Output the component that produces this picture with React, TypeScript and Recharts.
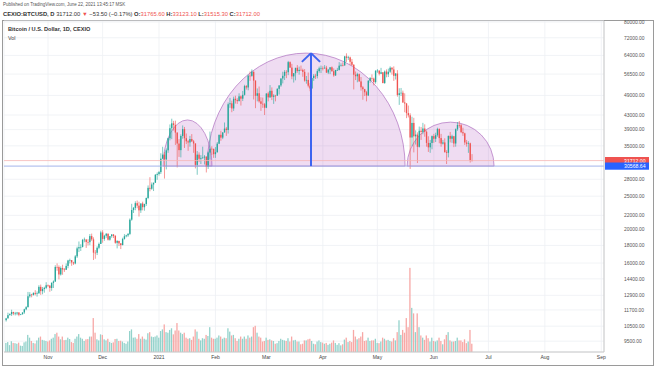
import React from 'react';
import { ComposedChart, Bar, XAxis, YAxis, CartesianGrid, ReferenceLine, ReferenceArea } from 'recharts';

// Daily BTC/USD (CEXIO), 9 Oct 2020 .. 22 Jun 2021, prices in thousands USD
const openK: number[] = [
  10.93,11.06,11.30,11.38,11.54,11.43,11.43,11.50,11.33,11.37,11.51,11.75,11.92,12.82,12.97,12.93,13.11,13.03,13.07,13.65,13.27,13.46,13.56,
  13.80,13.76,13.55,14.02,14.15,15.59,15.58,14.83,15.48,15.33,15.30,15.70,16.28,16.32,16.07,15.96,16.73,17.65,17.80,17.82,18.68,18.72,18.42,18.40,19.16,18.74,17.15,17.14,17.72,18.18,
  19.63,18.80,19.20,19.45,18.70,19.15,19.36,19.17,18.32,18.55,18.25,18.04,18.80,19.14,19.25,19.44,21.38,22.80,23.13,23.87,23.48,22.75,23.82,23.24,23.73,24.71,26.44,26.28,27.04,27.36,28.84,
  29.00,29.37,32.13,33.00,31.97,33.97,36.82,39.37,40.67,40.24,38.24,35.54,34.01,37.39,39.14,36.83,36.07,35.80,36.63,36.07,35.55,30.82,33.00,32.10,32.29,32.37,32.57,30.43,33.47,34.32,34.30,
  33.11,33.54,35.51,37.67,36.97,38.29,39.26,38.90,46.20,46.48,44.92,47.91,47.50,47.17,48.70,47.95,49.20,52.15,51.68,55.90,55.84,57.41,54.09,48.88,49.71,47.10,46.34,46.19,
  45.14,49.63,48.38,50.54,48.56,48.93,48.91,51.21,52.39,54.88,55.86,57.33,57.23,61.19,59.00,55.64,56.83,58.92,57.67,58.12,58.09,57.35,54.10,54.34,52.30,51.32,55.03,55.86,55.78,57.63,58.73,
  58.74,58.72,58.98,57.09,58.20,59.12,57.60,56.00,58.09,58.10,59.77,59.99,59.86,63.59,62.96,63.16,61.33,60.11,56.27,55.70,56.47,53.81,51.73,51.09,50.05,49.00,54.02,55.03,54.82,53.56,
  57.75,57.83,56.63,57.20,53.24,57.47,56.43,57.38,58.93,58.28,55.86,56.70,49.15,49.72,49.88,46.76,46.43,43.54,42.91,37.00,40.78,37.29,37.72,34.77,38.71,38.40,39.29,38.44,35.69,34.65,35.68,
  37.34,36.69,37.58,39.19,36.86,35.52,35.80,33.59,33.41,37.39,36.69,37.31,35.55,39.10,40.22,40.16,38.35,38.05,35.79,35.48,35.60,31.77,
];
const highK: number[] = [
  11.10,11.49,11.44,11.72,11.56,11.55,11.55,11.54,11.40,11.50,11.80,12.00,13.20,13.18,13.03,13.16,13.35,13.24,13.80,13.86,13.64,13.66,14.08,
  13.87,13.82,14.07,14.25,15.77,15.97,15.75,15.65,15.83,15.48,15.96,16.35,16.48,16.33,16.14,16.88,17.85,18.48,18.14,18.80,18.97,18.77,18.77,19.42,19.48,19.00,17.45,17.90,18.35,19.86,
  19.92,19.32,19.56,19.52,19.17,19.42,19.42,19.30,18.63,18.56,18.28,18.95,19.41,19.33,19.56,21.56,23.77,23.27,24.17,24.29,24.10,23.83,24.11,23.79,24.78,26.87,28.39,27.41,27.37,28.99,29.30,
  29.60,33.30,34.78,33.60,34.40,36.95,40.37,41.95,41.35,41.40,38.30,36.60,37.80,40.10,39.70,38.00,36.40,37.40,37.85,36.40,35.60,33.80,33.50,32.90,34.80,32.90,32.60,33.70,38.50,34.90,34.35,
  34.70,35.90,37.70,38.70,38.30,40.90,39.70,46.75,48.20,47.30,48.60,48.90,48.10,49.70,49.00,50.50,52.60,52.50,56.30,57.50,58.30,57.50,54.20,51.35,52.00,48.40,48.30,46.60,
  49.70,50.20,52.50,51.70,49.40,49.20,51.40,52.40,54.90,57.40,58.00,58.00,61.70,61.50,60.50,56.90,58.90,60.00,59.40,59.80,58.60,58.40,55.80,57.10,53.20,55.10,56.50,56.60,58.40,59.40,59.80,
  59.50,60.00,59.70,58.50,59.20,59.45,58.70,58.10,58.90,61.20,60.70,61.10,63.80,64.90,63.80,63.50,62.50,60.40,57.50,57.00,56.70,55.40,52.20,51.20,50.50,54.30,55.40,56.40,55.20,58.00,
  58.40,57.90,58.90,57.20,57.90,58.30,58.60,59.50,59.20,59.50,56.90,58.00,51.40,51.50,50.60,49.70,46.60,45.80,43.50,42.50,42.20,38.80,38.30,39.80,39.70,40.80,40.40,38.80,37.30,36.40,37.50,
  37.90,38.20,39.50,39.30,37.90,36.40,36.80,34.00,37.50,38.40,37.70,37.40,39.30,41.00,41.30,40.50,39.50,38.20,36.40,36.10,35.75,33.12,
];
const lowK: number[] = [
  10.83,11.06,11.28,11.24,11.30,11.28,11.30,11.22,11.30,11.35,11.40,11.68,11.90,12.70,12.73,12.88,12.90,12.79,13.05,12.94,12.99,13.13,13.44,
  13.63,13.21,13.30,13.55,14.10,15.20,14.35,14.72,14.80,15.08,15.28,15.46,15.96,15.71,15.80,15.87,16.55,17.22,17.35,17.76,18.38,17.70,18.00,18.03,18.55,16.33,16.47,16.88,17.55,18.18,
  18.33,18.57,18.93,18.60,18.58,18.94,18.91,18.20,17.65,17.93,17.57,18.02,18.71,19.00,19.06,19.29,21.23,22.35,22.77,23.07,21.83,22.37,22.75,22.70,23.43,24.51,25.83,26.10,25.88,27.32,27.90,
  28.70,29.00,32.00,28.13,29.90,33.40,36.30,36.60,38.75,35.20,30.30,32.50,32.40,36.70,34.50,35.40,33.85,34.80,35.90,33.40,30.10,28.85,31.40,31.00,32.10,30.90,29.30,30.00,31.95,32.90,32.30,
  32.30,33.44,35.40,36.20,36.60,38.20,37.40,37.99,45.10,43.80,44.20,46.40,46.30,47.10,45.80,47.20,48.95,50.95,50.70,54.00,55.50,47.70,45.00,47.10,46.70,44.20,45.10,43.00,
  45.00,47.10,48.20,47.50,46.30,47.10,48.85,49.30,51.90,53.10,54.30,55.00,56.10,58.90,54.60,53.40,54.20,57.00,56.30,57.90,55.50,53.70,53.00,51.70,50.40,51.30,54.00,54.70,54.90,57.00,56.90,
  57.90,58.50,56.90,56.50,56.50,57.40,55.50,55.80,57.70,57.90,59.40,59.50,59.80,61.30,62.10,60.00,59.60,51.00,54.30,53.50,53.70,50.60,47.60,48.80,47.10,48.80,53.30,53.90,52.40,53.00,
  57.00,56.00,56.50,53.10,52.90,55.30,55.40,56.90,56.30,54.00,54.50,48.60,46.00,48.80,46.60,43.80,42.10,42.30,30.00,34.90,33.50,35.30,31.20,34.60,36.40,37.80,37.20,34.80,33.60,33.40,34.20,
  35.70,35.90,37.20,35.60,34.80,35.30,33.40,31.00,32.40,35.80,35.70,34.70,34.80,38.70,39.50,38.10,37.40,35.20,34.80,33.40,31.30,31.52,
];
const closeK: number[] = [
  11.06,11.30,11.38,11.54,11.43,11.43,11.50,11.33,11.37,11.51,11.75,11.92,12.82,12.97,12.93,13.11,13.03,13.07,13.65,13.27,13.46,13.56,13.80,
  13.76,13.55,14.02,14.15,15.59,15.58,14.83,15.48,15.33,15.30,15.70,16.28,16.32,16.07,15.96,16.73,17.65,17.80,17.82,18.68,18.72,18.42,18.40,19.16,18.74,17.15,17.14,17.72,18.18,19.63,
  18.80,19.20,19.45,18.70,19.15,19.36,19.17,18.32,18.55,18.25,18.04,18.80,19.14,19.25,19.44,21.38,22.80,23.13,23.87,23.48,22.75,23.82,23.24,23.73,24.71,26.44,26.28,27.04,27.36,28.84,29.00,
  29.37,32.13,33.00,31.97,33.97,36.82,39.37,40.67,40.24,38.24,35.54,34.01,37.39,39.14,36.83,36.07,35.80,36.63,36.07,35.55,30.82,33.00,32.10,32.29,32.37,32.57,30.43,33.47,34.32,34.30,33.11,
  33.54,35.51,37.67,36.97,38.29,39.26,38.90,46.20,46.48,44.92,47.91,47.50,47.17,48.70,47.95,49.20,52.15,51.68,55.90,55.84,57.41,54.09,48.88,49.71,47.10,46.34,46.19,45.14,
  49.63,48.38,50.54,48.56,48.93,48.91,51.21,52.39,54.88,55.86,57.33,57.23,61.19,59.00,55.64,56.83,58.92,57.67,58.12,58.09,57.35,54.10,54.34,52.30,51.32,55.03,55.86,55.78,57.63,58.73,58.74,
  58.72,58.98,57.09,58.20,59.12,57.60,56.00,58.09,58.10,59.77,59.99,59.86,63.59,62.96,63.16,61.33,60.11,56.27,55.70,56.47,53.81,51.73,51.09,50.05,49.00,54.02,55.03,54.82,53.56,57.75,
  57.83,56.63,57.20,53.24,57.47,56.43,57.38,58.93,58.28,55.86,56.70,49.15,49.72,49.88,46.76,46.43,43.54,42.91,37.00,40.78,37.29,37.72,34.77,38.71,38.40,39.29,38.44,35.69,34.65,35.68,37.34,
  36.69,37.58,39.19,36.86,35.52,35.80,33.59,33.41,37.39,36.69,37.31,35.55,39.10,40.22,40.16,38.35,38.05,35.79,35.48,35.60,31.77,31.712,
];
// daily volume, BTC
const volume: number[] = [
  330,360,250,390,330,320,300,340,230,220,350,380,620,520,400,330,310,420,520,560,440,420,400,
  380,420,480,520,650,700,560,460,560,430,440,520,470,360,330,480,560,650,520,480,400,460,470,560,560,1230,700,460,420,640,
  620,460,420,480,360,330,350,470,480,400,410,380,330,300,380,760,820,520,530,480,650,480,560,480,450,680,720,560,540,560,600,
  520,760,820,1000,720,700,800,860,640,780,1050,780,700,650,700,520,480,500,440,560,820,740,480,420,500,480,620,580,900,520,480,
  480,520,600,560,480,520,500,860,740,600,620,500,400,480,560,480,560,480,600,520,560,900,950,700,560,520,380,400,
  520,440,460,420,400,300,320,400,480,440,420,400,500,380,560,420,440,380,380,280,300,420,420,460,480,400,300,280,380,420,360,
  340,300,330,260,300,340,420,330,260,320,240,280,450,520,360,400,360,800,560,460,500,560,720,400,420,520,400,420,420,480,
  330,320,380,520,480,420,440,400,380,500,420,720,1150,620,800,700,1230,900,3050,1600,1400,720,1400,900,600,520,440,600,500,380,520,
  400,380,420,520,400,280,460,620,720,420,380,380,400,520,420,420,360,460,320,380,800,300,
];

// x axis: day index from 9 Oct 2020
const monthTicks = [23, 53, 84, 115, 143, 174, 204, 235, 265, 296, 327];
const monthLabels = ['Nov', 'Dec', '2021', 'Feb', 'Mar', 'Apr', 'May', 'Jun', 'Jul', 'Aug', 'Sep'];
const priceTicks = [9500, 10500, 11700, 12900, 14400, 16000, 18000, 20000, 22000, 25000, 28000, 35000, 39000, 43000, 49000, 56500, 64000, 72000, 80000];

const lastPrice = 31712.0;
const levelPrice = 30568.64;
// arcs: [startDay, endDay, peakPrice]
const arcs: [number, number, number][] = [
  [86.2, 113.1, 41600],
  [110.4, 219.2, 65000],
  [220.3, 268.1, 41000],
];
const arrowDay = 167.5;
const arrowTop = 65000;
const arrowArmPrice = 61300;
const arrowArmHalf = 5;

const UP = '#26a69a';
const DOWN = '#ef5350';
const FONT = '"Liberation Sans", Arial, sans-serif';

const data = closeK.map((c, i) => ({
  day: i,
  o: openK[i] * 1000,
  h: highK[i] * 1000,
  l: lowK[i] * 1000,
  c: c * 1000,
  range: [lowK[i] * 1000, highK[i] * 1000],
  vol: volume[i],
}));

const Candle = (p: any) => {
  const { x, y, width, height, payload } = p;
  if (x == null || y == null || !payload) return <g />;
  const top = Math.min(y, y + height);
  const bot = Math.max(y, y + height);
  const { o, h, l, c } = payload;
  const lh = Math.log(h);
  const ll = Math.log(l);
  const span = lh - ll || 1;
  const py = (v: number) => top + ((bot - top) * (lh - Math.log(v))) / span;
  const up = c >= o;
  const col = up ? UP : DOWN;
  const cx = x + width / 2;
  const bw = 1.35;
  const y1 = py(Math.max(o, c));
  const y2 = py(Math.min(o, c));
  return (
    <g>
      <line x1={cx} x2={cx} y1={top} y2={bot} stroke={col} strokeWidth={0.6} />
      <rect x={cx - bw / 2} y={y1} width={bw} height={Math.max(0.6, y2 - y1)} fill={col} />
    </g>
  );
};

const VolBar = (p: any) => {
  const { x, y, width, height, payload } = p;
  if (x == null || !payload) return <g />;
  const up = payload.c >= payload.o;
  return <rect x={x + width / 2 - 0.65} y={y} width={1.3} height={Math.max(0, height)} fill={up ? '#93d2cb' : '#f7a8a6'} />;
};

const ArcShape = (p: any) => {
  const { x, y, width, height } = p;
  if (!width || !height) return <g />;
  const d = `M${x},${y + height} A${width / 2},${height} 0 0 1 ${x + width},${y + height} Z`;
  return <path d={d} fill="rgba(171,71,188,0.19)" stroke="#ad6fbf" strokeWidth={0.7} />;
};

const tag = (text: string, color: string) => (props: any) => {
  const vb = props.viewBox || {};
  const rx = (vb.x || 0) + (vb.width || 0);
  const cy = vb.y || 0;
  return (
    <g>
      <rect x={rx + 1} y={cy - 3.6} width={44} height={7.2} fill={color} />
      <text x={rx + 20} y={cy + 1.9} fill="#fff" fontSize={5.2} fontFamily={FONT} textAnchor="start">{text}</text>
    </g>
  );
};

export default function App() {
  return (
    <div style={{ position: 'absolute', left: 0, top: 0, width: 654, height: 366, background: '#fff', overflow: 'hidden', fontFamily: FONT }}>
      <div style={{ position: 'absolute', left: 3, top: 2, fontSize: 4.5, color: '#555', whiteSpace: 'nowrap' }}>
        Published on TradingView.com, June 22, 2021 13:45:17 MSK
      </div>
      <div style={{ position: 'absolute', left: 3, top: 11, fontSize: 5.8, color: '#333', whiteSpace: 'nowrap' }}>
        <b>CEXIO:BTCUSD, D</b> 31712.00 <span style={{ color: DOWN }}>▼</span> −53.50 (−0.17%) <b>O:</b><span style={{ color: DOWN }}>31765.60</span> <b>H:</b><span style={{ color: DOWN }}>33123.10</span> <b>L:</b><span style={{ color: DOWN }}>31515.30</span> <b>C:</b><span style={{ color: DOWN }}>31712.00</span>
      </div>
      <div style={{ position: 'absolute', left: 2, top: 20, width: 650, height: 344, border: '1px solid #9a9a9a' }} />
      <div style={{ position: 'absolute', left: 0, top: 0 }}>
        <ComposedChart width={654} height={366} data={data} margin={{ top: 21, right: 0, bottom: 0, left: 4 }}>
          <CartesianGrid xAxisId="p" yAxisId="price" stroke="#eef0f4" strokeWidth={0.8} />
          <XAxis xAxisId="p" dataKey="day" type="number" domain={[-1.18, 328.5]} allowDataOverflow ticks={monthTicks}
            tickFormatter={(v: number) => monthLabels[monthTicks.indexOf(v)] ?? ''} interval={0}
            height={14} tickLine={false} tickSize={0} tickMargin={3} axisLine={{ stroke: '#c8c8c8' }}
            tick={{ fontSize: 5, fill: '#444', fontFamily: FONT }} />
          <XAxis xAxisId="v" dataKey="day" type="number" domain={[-1.18, 328.5]} allowDataOverflow hide />
          <YAxis yAxisId="price" orientation="right" scale="log" domain={[8837, 80535]} allowDataOverflow ticks={priceTicks}
            interval={0} width={50} tickLine={false} tickSize={0} tickMargin={20} axisLine={{ stroke: '#c8c8c8' }}
            tickFormatter={(v: number) => v.toFixed(2)} tick={{ fontSize: 4.9, fill: '#555', fontFamily: FONT }} />
          <YAxis yAxisId="vol" domain={[0, 12000]} hide />

          {arcs.map(([a, b, peak], i) => (
            <ReferenceArea key={i} xAxisId="p" yAxisId="price" x1={a} x2={b} y1={levelPrice} y2={peak} shape={ArcShape} />
          ))}

          <Bar xAxisId="v" yAxisId="vol" dataKey="vol" barSize={1.3} shape={VolBar} isAnimationActive={false} />
          <Bar xAxisId="p" yAxisId="price" dataKey="range" barSize={1.8} shape={Candle} isAnimationActive={false} />

          <ReferenceLine xAxisId="p" yAxisId="price" y={lastPrice} stroke="#f5b5b4" strokeWidth={0.8} label={tag('31712.00', '#ef5350')} />
          <ReferenceLine xAxisId="p" yAxisId="price" y={levelPrice} stroke="#9aabe8" strokeWidth={0.9} label={tag('30568.64', '#2962ff')} />

          <ReferenceLine xAxisId="p" yAxisId="price" segment={[{ x: arrowDay, y: levelPrice }, { x: arrowDay, y: arrowTop }]} stroke="#3d64f0" strokeWidth={2} />
          <ReferenceLine xAxisId="p" yAxisId="price" segment={[{ x: arrowDay - arrowArmHalf, y: arrowArmPrice }, { x: arrowDay, y: arrowTop }]} stroke="#3d64f0" strokeWidth={2} />
          <ReferenceLine xAxisId="p" yAxisId="price" segment={[{ x: arrowDay + arrowArmHalf, y: arrowArmPrice }, { x: arrowDay, y: arrowTop }]} stroke="#3d64f0" strokeWidth={2} />
        </ComposedChart>
      </div>
      <div style={{ position: 'absolute', left: 8, top: 26, fontSize: 5.6, fontWeight: 'bold', color: '#333', whiteSpace: 'nowrap' }}>
        Bitcoin / U.S. Dollar, 1D, CEXIO
      </div>
      <div style={{ position: 'absolute', left: 8, top: 35, fontSize: 5.4, color: '#444' }}>Vol</div>
    </div>
  );
}
